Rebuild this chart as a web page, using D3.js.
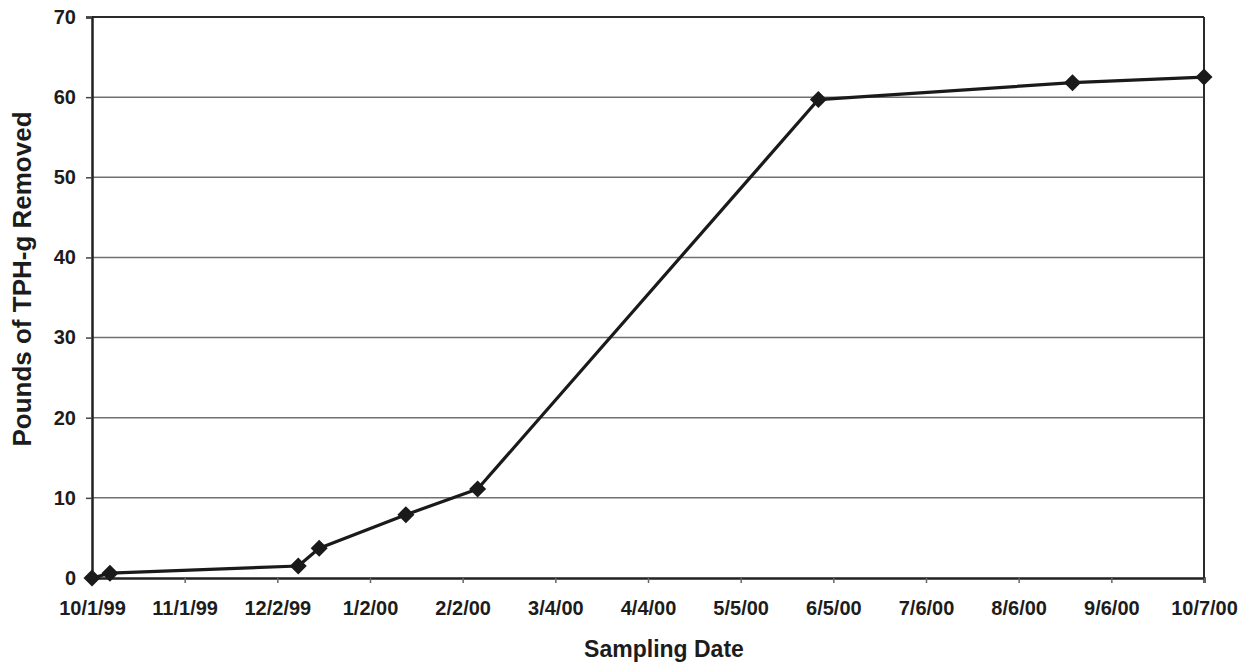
<html>
<head>
    <style>
        body { margin: 0; background: #fff; }
        svg text { font-family: "Liberation Sans", Arial, sans-serif; font-weight: bold; fill: #1c1c1c; }
    </style>
</head>
<body>
<svg width='1253' height='672'></svg>
<script src='https://cdnjs.cloudflare.com/ajax/libs/d3/7.8.5/d3.min.js'></script>
<script>
    // sampling dates and cumulative pounds removed
    const sampleDates = ['10/1/99', '10/7/99', '12/9/99', '12/16/99', '1/14/00', '2/7/00', '5/31/00', '8/24/00', '10/7/00'];
    const poundsRemoved = [0, 0.6, 1.5, 3.7, 7.9, 11.1, 59.7, 61.8, 62.5];

    const xTickLabels = ['10/1/99', '11/1/99', '12/2/99', '1/2/00', '2/2/00', '3/4/00', '4/4/00',
        '5/5/00', '6/5/00', '7/6/00', '8/6/00', '9/6/00', '10/7/00'];
    const yTicks = [0, 10, 20, 30, 40, 50, 60, 70];

    const parse = d3.utcParse('%m/%d/%y');
    const fmt = d3.utcFormat('%-m/%-d/%y');

    const plotLeft = 92, plotRight = 1204, plotTop = 17, plotBottom = 578;

    const svg = d3.select('svg');

    const x = d3.scaleUtc()
        .domain([parse(xTickLabels[0]), parse(xTickLabels[xTickLabels.length - 1])])
        .range([plotLeft, plotRight]);
    const y = d3.scaleLinear().domain([0, 70]).range([plotBottom, plotTop]);

    // horizontal gridlines
    svg.append('g')
        .selectAll('line')
        .data(yTicks.slice(1))
        .join('line')
        .attr('x1', plotLeft).attr('x2', plotRight)
        .attr('y1', d => y(d)).attr('y2', d => y(d))
        .attr('stroke', '#707070')
        .attr('stroke-width', 1.5);

    // frame on top / right
    svg.append('line')
        .attr('x1', plotLeft).attr('x2', plotRight).attr('y1', plotTop).attr('y2', plotTop)
        .attr('stroke', '#2a2a2a').attr('stroke-width', 2);
    svg.append('line')
        .attr('x1', plotRight).attr('x2', plotRight).attr('y1', plotTop).attr('y2', plotBottom)
        .attr('stroke', '#2a2a2a').attr('stroke-width', 2);

    // x axis
    const xAxis = svg.append('g')
        .attr('transform', `translate(0,${plotBottom})`)
        .call(d3.axisBottom(x)
            .tickValues(xTickLabels.map(parse))
            .tickFormat(fmt)
            .tickSize(5)
            .tickPadding(18));
    xAxis.select('.domain').attr('stroke', '#222').attr('stroke-width', 2.5);
    xAxis.selectAll('.tick line').attr('stroke', '#666').attr('stroke-width', 1.5);
    xAxis.selectAll('.tick text').attr('font-size', 20).attr('fill', '#1c1c1c');

    // y axis
    const yAxis = svg.append('g')
        .attr('transform', `translate(${plotLeft},0)`)
        .call(d3.axisLeft(y)
            .tickValues(yTicks)
            .tickSize(6)
            .tickPadding(10));
    yAxis.select('.domain').attr('stroke', '#222').attr('stroke-width', 2.5);
    yAxis.selectAll('.tick line').attr('stroke', '#444').attr('stroke-width', 1.5);
    yAxis.selectAll('.tick text').attr('font-size', 20).attr('fill', '#1c1c1c');

    const points = sampleDates.map((d, i) => ({date: parse(d), value: poundsRemoved[i]}));

    // data line
    svg.append('path')
        .datum(points)
        .attr('fill', 'none')
        .attr('stroke', '#1a1a1a')
        .attr('stroke-width', 3.2)
        .attr('stroke-linejoin', 'round')
        .attr('d', d3.line().x(d => x(d.date)).y(d => y(d.value)));

    // diamond markers
    svg.append('g')
        .selectAll('path')
        .data(points)
        .join('path')
        .attr('transform', d => `translate(${x(d.date)},${y(d.value)})`)
        .attr('d', 'M0,-8.5L8.5,0L0,8.5L-8.5,0Z')
        .attr('fill', '#1a1a1a');

    // axis titles
    svg.append('text')
        .attr('x', 664).attr('y', 657)
        .attr('text-anchor', 'middle')
        .attr('font-size', 23)
        .text('Sampling Date');

    svg.append('text')
        .attr('transform', 'translate(31,279) rotate(-90)')
        .attr('text-anchor', 'middle')
        .attr('font-size', 26)
        .text('Pounds of TPH-g Removed');
</script>
</body>
</html>
